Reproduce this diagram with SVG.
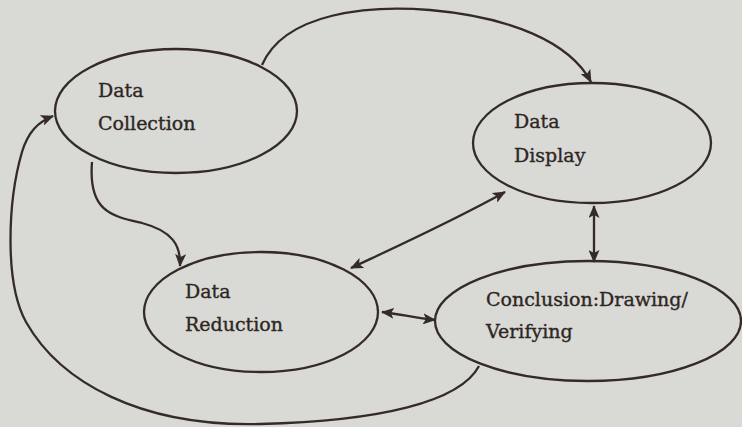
<svg xmlns="http://www.w3.org/2000/svg" width="742" height="427" viewBox="0 0 742 427">
<style>
.node ellipse{fill:none;stroke:#342b27;stroke-width:2.3}
.node text{font-family:"DejaVu Serif","Liberation Serif",serif;font-size:19px;fill:#2e2622;stroke:#2e2622;stroke-width:0.35}
.edge{fill:none;stroke:#342b27;stroke-width:2.3}
</style>
<defs>
<marker id="ah" viewBox="0 0 13 11" refX="12" refY="5.5" markerWidth="13" markerHeight="11" markerUnits="userSpaceOnUse" orient="auto-start-reverse">
<path d="M0,0 L13,5.5 L0,11 L3,5.5 Z" fill="#342b27"/>
</marker>
</defs>
<rect width="742" height="427" fill="#d9d9d6"/>
<g id="connectors">
<path class="edge" d="M262,65 C285,12 370,5 430,10 C510,17 570,42 591,82" marker-end="url(#ah)"/>
<path class="edge" d="M92,162 C88,212 112,216 142,223 C172,231 181,245 180,266" marker-end="url(#ah)"/>
<path class="edge" d="M351,268 C400,245 455,220 505,192" marker-start="url(#ah)" marker-end="url(#ah)"/>
<path class="edge" d="M594,206 L594,262" marker-start="url(#ah)" marker-end="url(#ah)"/>
<path class="edge" d="M382,312 C400,314 415,318 435,320" marker-start="url(#ah)" marker-end="url(#ah)"/>
<path class="edge" d="M479,366 C460,402 380,421 260,424 C140,427 60,382 26,322 C4,282 8,200 22,152 C28,132 38,122 53,116" marker-end="url(#ah)"/>
</g>
<g id="data-collection" class="node">
<ellipse cx="176" cy="111" rx="121" ry="62"/>
<text x="98" y="97">Data</text>
<text x="98" y="130">Collection</text>
</g>
<g id="data-display" class="node">
<ellipse cx="592" cy="143" rx="119" ry="60"/>
<text x="514" y="128">Data</text>
<text x="514" y="162">Display</text>
</g>
<g id="data-reduction" class="node">
<ellipse cx="261" cy="312" rx="117" ry="60"/>
<text x="185" y="298">Data</text>
<text x="185" y="331">Reduction</text>
</g>
<g id="conclusion" class="node">
<ellipse cx="588" cy="321" rx="153" ry="60"/>
<text x="486" y="306">Conclusion:Drawing/</text>
<text x="486" y="338">Verifying</text>
</g>
</svg>
